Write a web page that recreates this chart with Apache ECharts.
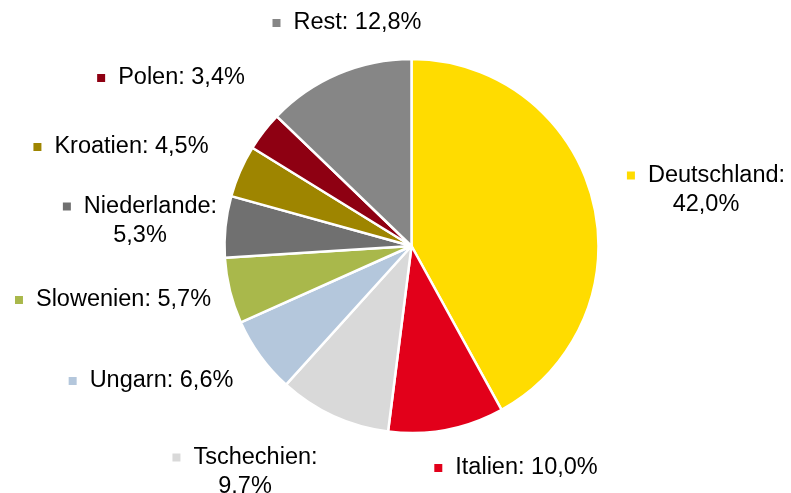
<!DOCTYPE html>
<html>
<head>
<meta charset="utf-8">
<script src="https://cdn.jsdelivr.net/npm/echarts@6/dist/echarts.min.js"></script>
<style>
	html, body { margin: 0; padding: 0; background: #fff; }
	#chart { width: 791px; height: 493px; }
</style>
</head>
<body>
<div id="chart"></div>
<script>
	// Anteile nach Land, im Uhrzeigersinn ab 12 Uhr
	var categories = ['Deutschland', 'Italien', 'Tschechien', 'Ungarn', 'Slowenien', 'Niederlande', 'Kroatien', 'Polen', 'Rest'];
	var values = [42.0, 10.0, 9.7, 6.6, 5.7, 5.3, 4.5, 3.4, 12.8];
	var valueLabels = ['42,0%', '10,0%', '9.7%', '6,6%', '5,7%', '5,3%', '4,5%', '3,4%', '12,8%'];
	var twoLine = [true, false, true, false, false, true, false, false, false];

	var colors = ['#FFDC00', '#E2001A', '#D9D9D9', '#B4C7DC', '#A9B84B', '#707070', '#9E8500', '#8E0012', '#868686'];
	// Label-Mittelpunkte (wie im Original manuell platziert)
	var labelPos = [[706, 190], [516, 468], [245, 472], [151, 381], [113, 300], [140, 221], [121, 147], [171, 78], [347, 23]];

	var textStyle = { fontFamily: 'Liberation Sans, Arial, sans-serif', fontSize: 23.5, color: '#000', lineHeight: 29 };

	var data = categories.map(function(name, i){
		var rich = {
			m: { width: 8, height: 8, backgroundColor: colors[i] },
			g: { width: 13, height: 8 },
			t: textStyle
		};
		return {
			name: name,
			value: values[i],
			itemStyle: { color: colors[i] },
			label: { rich: rich }
		};
	});

	var chart = echarts.init(document.getElementById('chart'), null, { renderer: 'canvas' });
	chart.setOption({
		animation: false,
		backgroundColor: '#fff',
		series: [{
			type: 'pie',
			center: [411.5, 246],
			radius: 187,
			startAngle: 90,
			clockwise: true,
			data: data,
			itemStyle: { borderColor: '#fff', borderWidth: 2.5 },
			emphasis: { disabled: true },
			labelLine: { show: false },
			label: {
				show: true,
				position: 'outside',
				align: 'center',
				overflow: 'none',
				edgeDistance: 0,
				formatter: function(p){
					var i = p.dataIndex;
					if(twoLine[i]){
						return '{m|}{g|}{t|' + categories[i] + ':}\n{t|' + valueLabels[i] + '}';
					}
					return '{m|}{g|}{t|' + categories[i] + ': ' + valueLabels[i] + '}';
				}
			},
			labelLayout: function(params){
				var pos = labelPos[params.dataIndex];
				return { x: pos[0], y: pos[1], align: 'center', verticalAlign: 'middle' };
			}
		}]
	});
</script>
</body>
</html>
